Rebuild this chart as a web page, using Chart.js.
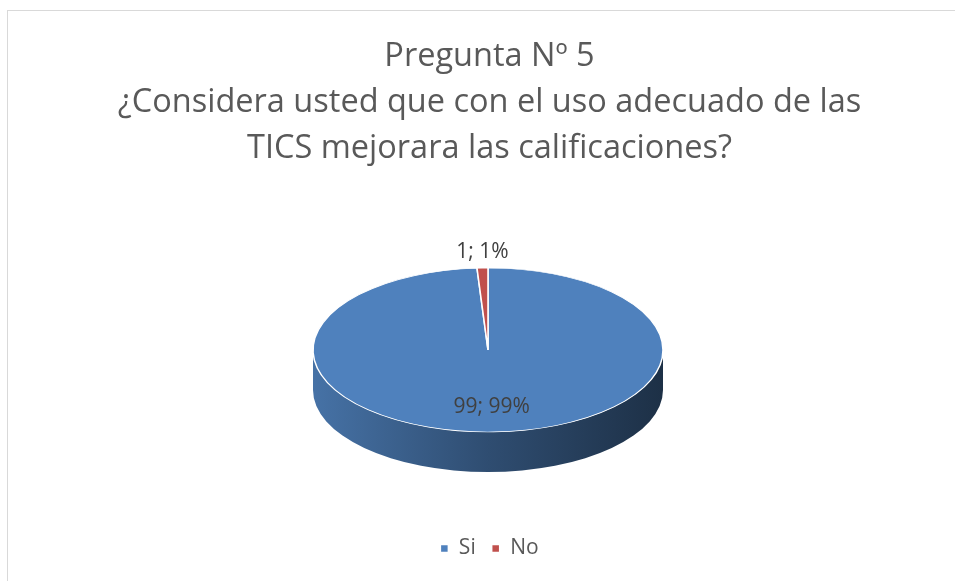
<!DOCTYPE html>
<html>
<head>
<meta charset="utf-8">
<script src="https://cdn.jsdelivr.net/npm/chart.js@4.4.0/dist/chart.umd.min.js"></script>
<style>
html, body { margin: 0; padding: 0; background: #fff; overflow: hidden; }
</style>
</head>
<body>
<canvas id="grafico" width="955" height="581"></canvas>
<script>
const titulo = ['Pregunta Nº 5', '¿Considera usted que con el uso adecuado de las', 'TICS mejorara las calificaciones?']
const respuestas = ['Si', 'No']
const cantidades = [99, 1]
const colores = ['#4f81bd', '#c0504d']

// where the tilted pie sits on the page
const CX = 488, CY = 350, RX = 175, RY = 82, ALTO = 40
const FUENTE = '"Open Sans", Lato, sans-serif'

function oscurecer(hex, f) {
  const n = parseInt(hex.slice(1), 16)
  const r = Math.round(((n >> 16) & 255) * f)
  const g = Math.round(((n >> 8) & 255) * f)
  const b = Math.round((n & 255) * f)
  return `rgb(${r},${g},${b})`
}

function lado(ctx, s, e, color) {
  const grad = ctx.createLinearGradient(CX - RX, 0, CX + RX, 0)
  grad.addColorStop(0, oscurecer(color, 0.88))
  grad.addColorStop(0.5, oscurecer(color, 0.6))
  grad.addColorStop(1, oscurecer(color, 0.37))
  ctx.beginPath()
  ctx.ellipse(CX, CY, RX, RY, 0, s, e, false)
  ctx.ellipse(CX, CY + ALTO, RX, RY, 0, e, s, true)
  ctx.closePath()
  ctx.fillStyle = grad
  ctx.fill()
}

const pastel3d = {
  id: 'pastel3d',
  beforeDraw(chart) {
    const ctx = chart.ctx
    ctx.save()
    ctx.strokeStyle = '#d9d9d9'
    ctx.lineWidth = 1
    ctx.strokeRect(7.5, 10.5, 2000, 2000)
    ctx.restore()
  },
  beforeDatasetsDraw(chart) {
    const ctx = chart.ctx
    const arcos = chart.getDatasetMeta(0).data
    arcos.forEach((arc, i) => {
      for (let k = -1; k <= 1; k++) {
        const s = Math.max(arc.startAngle + k * 2 * Math.PI, 0)
        const e = Math.min(arc.endAngle + k * 2 * Math.PI, Math.PI)
        if (e > s) lado(ctx, s, e, colores[i])
      }
    })
    const a = arcos[0]
    ctx.save()
    ctx.translate(CX, CY)
    ctx.scale(RX / a.outerRadius, RY / a.outerRadius)
    ctx.translate(-a.x, -a.y)
  },
  afterDatasetsDraw(chart) {
    const ctx = chart.ctx
    ctx.restore()
    const total = cantidades.reduce((x, y) => x + y, 0)
    const tam = 21
    ctx.save()
    ctx.font = `${tam}px ${FUENTE}`
    ctx.fillStyle = '#404040'
    ctx.textAlign = 'center'
    ctx.textBaseline = 'alphabetic'
    chart.getDatasetMeta(0).data.forEach((arc, i) => {
      const medio = (arc.startAngle + arc.endAngle) / 2
      const frac = cantidades[i] / total
      let x, y
      if (frac >= 0.1) {
        x = CX + Math.cos(medio) * RX * 0.68
        y = CY + Math.sin(medio) * RY * 0.68
      } else {
        x = CX + Math.cos(medio) * RX
        y = CY + Math.sin(medio) * RY - 18
      }
      const txt = cantidades[i] + '; ' + Math.round(frac * 100) + '%'
      ctx.fillText(txt, x, y + tam * 0.36)
    })
    ctx.restore()
  }
}

Chart.defaults.font.family = FUENTE

new Chart(document.getElementById('grafico'), {
  type: 'pie',
  data: {
    labels: respuestas,
    datasets: [{
      data: cantidades,
      backgroundColor: colores,
      borderColor: '#ffffff',
      borderWidth: 1.5
    }]
  },
  options: {
    responsive: false,
    animation: false,
    events: [],
    layout: { padding: { top: 0, bottom: 12, left: 24 } },
    plugins: {
      title: {
        display: true,
        text: titulo,
        color: '#595959',
        font: { size: 32.5, weight: 'normal', lineHeight: 1.43 },
        padding: { top: 33, bottom: 10 }
      },
      legend: {
        position: 'bottom',
        labels: {
          color: '#595959',
          font: { size: 21 },
          boxWidth: 8,
          boxHeight: 8,
          padding: 16
        }
      },
      tooltip: { enabled: false }
    }
  },
  plugins: [pastel3d]
})
</script>
</body>
</html>
